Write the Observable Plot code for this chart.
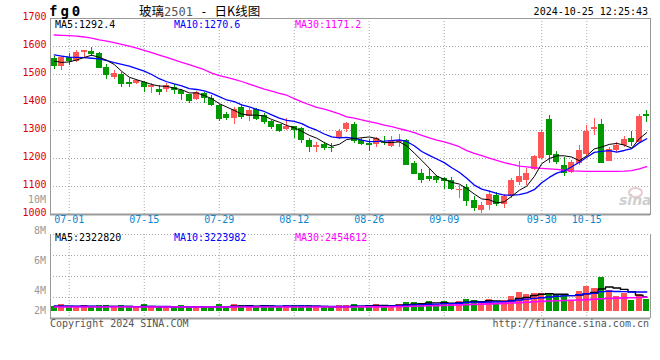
<!DOCTYPE html>
<html><head><meta charset="utf-8">
<script src="https://cdn.jsdelivr.net/npm/d3@7"></script>
<script src="https://cdn.jsdelivr.net/npm/@observablehq/plot@0.6"></script>
<style>
html,body{margin:0;padding:0;background:#fff;}
#root{position:relative;width:660px;height:360px;overflow:hidden;background:#fff;font-family:'DejaVu Sans Mono','Liberation Mono',monospace;}
.t{position:absolute;white-space:nowrap;line-height:1;}
.t span{display:inline-block;line-height:1;vertical-align:top;}
#main,#vol{position:absolute;left:0;}
#main{top:0;} #vol{top:228px;}
</style></head><body><div id="root"></div>
<script>
// ---------- DATA ----------
const dates = ["06-27","06-28",
"07-01","07-02","07-03","07-04","07-05","07-08","07-09","07-10","07-11","07-12",
"07-15","07-16","07-17","07-18","07-19","07-22","07-23","07-24","07-25","07-26",
"07-29","07-30","07-31",
"08-01","08-02","08-05","08-06","08-07","08-08","08-09","08-12","08-13","08-14","08-15","08-16",
"08-19","08-20","08-21","08-22","08-23","08-26","08-27","08-28","08-29","08-30",
"09-02","09-03","09-04","09-05","09-06","09-09","09-10","09-11","09-12","09-13",
"09-18","09-19","09-20","09-23","09-24","09-25","09-26","09-27","09-30",
"10-08","10-09","10-10","10-11","10-14","10-15","10-16","10-17","10-18",
"10-21","10-22","10-23","10-24","10-25"];

const opens  = [1556,1530,1559,1548,1580,1582,1576,1524,1491,1501, 1473,1469,1470,1452,1446,1445,1455,1443,1428,1411,
                1433,1413,1389,1357,1344,1383,1350,1374,1352,1333, 1320,1304,1313,1308,1265,1240,1250,1241,1272,1304,
                1321,1266,1255,1249,1258,1244,1258,1265,1182,1147, 1136,1136,1128,1121,1085,1097,1050,1014,1032,1068,
                1034,1063,1113,1121,1160,1200,1339,1214,1175,1151, 1183,1213,1304,1323,1190,1229,1246,1270,1258,1357];
const closes = [1530,1562,1548,1580,1585,1570,1523,1495,1505,1463, 1466,1477,1455,1461,1435,1461,1443,1428,1404,1435,
                1413,1389,1339,1343,1374,1347,1371,1340,1328,1311, 1298,1313,1300,1264,1240,1245,1236,1234,1298,1326,
                1262,1251,1248,1270,1252,1264,1263,1175,1143,1121, 1126,1120,1119,1088,1091,1047,1020,1032,1073,1036,
                1065,1120,1137,1148,1208,1294,1211,1187,1148,1186, 1229,1297,1311,1183,1232,1246,1267,1257,1350,1349];
const highs  = [1564,1566,1576,1586,1587,1598,1578,1536,1514,1506, 1485,1483,1476,1467,1461,1469,1464,1446,1430,1438,
                1436,1425,1392,1365,1381,1389,1377,1380,1360,1336, 1323,1342,1315,1312,1270,1258,1256,1255,1304,1330,
                1330,1270,1268,1276,1279,1279,1287,1269,1188,1161, 1161,1138,1133,1133,1103,1107,1064,1042,1085,1080,
                1070,1128,1189,1163,1212,1300,1355,1225,1203,1193, 1245,1318,1342,1338,1240,1258,1278,1298,1356,1371];
const lows   = [1519,1514,1533,1544,1562,1566,1523,1482,1482,1455, 1453,1464,1437,1433,1425,1437,1429,1407,1398,1408,
                1395,1385,1333,1336,1322,1340,1333,1336,1320,1305, 1293,1300,1272,1255,1220,1222,1230,1222,1268,1294,
                1255,1245,1226,1238,1246,1238,1240,1175,1142,1112, 1119,1112,1090,1086,1056,1030,1012,1002,1016,1030,
                1023,1056,1102,1104,1158,1195,1183,1180,1137,1146, 1175,1207,1283,1183,1188,1220,1240,1242,1256,1328];

const ma5  = [1548,1543,1545,1552,1561,1569,1561.2,1550.6,1535.6,1511.2, 1490.4,1481.2,1473.2,1464.4,1458.8,1457.8,1451,1445.6,1434.2,1434.2,
              1424.6,1413.8,1396,1383.8,1371.6,1358.4,1354.8,1355,1352,1339.4, 1329.6,1318,1310,1297.2,1283,1272.4,1257,1243.8,1250.6,1267.8,
              1271.2,1274.2,1277,1271.4,1256.6,1257,1259.4,1244.8,1219.4,1193.2, 1165.6,1137,1125.8,1114.8,1108.8,1093,1073,1055.6,1052.6,1041.6,
              1045.2,1065.2,1086.2,1101.2,1135.6,1181.4,1199.6,1209.6,1209.6,1205.2, 1192.2,1209.4,1234.2,1241.2,1250.4,1253.8,1247.8,1237,1270.4,1292.4];
const ma10 = [1570,1566,1562,1561,1560,1558,1556,1550,1542,1536.1, 1529.7,1521.2,1511.9,1500,1485,1474.1,1466.1,1459.4,1449.3,1446.5,
              1441.2,1432.4,1420.8,1409,1402.9,1391.5,1384.3,1375.5,1367.9,1355.5, 1344,1336.4,1332.5,1324.6,1311.2,1301,1287.5,1276.9,1273.9,1275.4,
              1271.8,1265.6,1260.4,1261,1262.2,1264.1,1266.8,1260.9,1245.4,1224.9, 1211.3,1198.2,1185.3,1167.1,1151,1129.3,1105,1090.7,1083.7,1075.2,
              1069.1,1069.1,1070.9,1076.9,1088.6,1113.3,1132.4,1147.9,1155.4,1170.4, 1186.8,1204.5,1221.9,1225.4,1227.8,1223,1228.6,1235.6,1255.8,1270.6];
const ma30 = [1641,1640,1639,1637,1634,1630,1624,1619,1614,1608, 1601,1594,1586,1578,1569,1561,1552,1543,1535,1526,
              1517,1505,1496,1490,1483,1475,1466,1457,1448,1441, 1433,1426,1414,1402,1392,1383,1376,1368,1359,1349,
              1344,1338,1332,1326,1319,1314,1307,1300,1292,1283, 1274,1266,1259,1251,1242,1228,1218,1210,1201,1193,
              1185,1179,1173,1170,1167,1165,1163,1161,1158,1156, 1155,1154,1154,1154,1154,1154,1155,1157,1163,1171.2];

// volume, millions of lots
const volumes = [0.86,1.2,0.74,0.74,0.98,0.74,0.98,0.98,0.74,0.98, 0.74,0.74,1.15,0.74,0.74,0.74,0.74,0.98,0.74,0.74,
                 0.74,0.74,1.15,0.74,1.2,0.98,0.98,0.74,0.98,0.98, 0.74,0.98,0.98,0.98,0.98,0.74,0.74,0.63,0.98,0.98,
                 1.2,0.86,0.98,1.2,0.98,0.98,1.2,1.6,1.55,1.32, 1.72,1.2,1.72,1.2,1.72,2.13,1.9,1.44,2.07,1.44,
                 1.9,2.59,3.28,2.93,3.05,3.05,3.1,2.76,2.87,1.9, 3.45,4.31,3.91,5.86,3.62,2.59,3.05,1.9,2.93,2.07];
const volMa5  = [0.9,0.92,0.9,0.88,0.90,0.88,0.84,0.88,0.88,0.88, 0.88,0.84,0.87,0.87,0.82,0.82,0.82,0.79,0.79,0.79,
                 0.79,0.79,0.82,0.82,0.91,0.96,1.01,0.93,0.98,0.93, 0.88,0.88,0.93,0.93,0.93,0.93,0.88,0.81,0.81,0.81,
                 0.91,0.93,1.0,1.04,1.04,1.0,1.07,1.19,1.26,1.33, 1.48,1.48,1.50,1.43,1.51,1.59,1.73,1.68,1.85,1.80,
                 1.75,1.89,2.26,2.43,2.75,2.98,3.08,2.98,2.97,2.74, 2.82,3.06,3.29,3.89,4.23,4.06,3.81,3.40,2.82,2.51];
const volMa10 = [0.92,0.92,0.91,0.9,0.9,0.9,0.89,0.89,0.89,0.89, 0.88,0.84,0.88,0.88,0.85,0.85,0.83,0.83,0.83,0.81,
                 0.81,0.81,0.81,0.81,0.85,0.88,0.90,0.88,0.90,0.92, 0.92,0.95,0.93,0.95,0.93,0.91,0.88,0.87,0.87,0.87,
                 0.92,0.91,0.91,0.93,0.93,0.95,1.0,1.10,1.15,1.19, 1.24,1.27,1.35,1.35,1.42,1.54,1.61,1.59,1.64,1.65,
                 1.67,1.81,1.97,2.14,2.27,2.37,2.49,2.62,2.70,2.74, 2.90,3.07,3.13,3.43,3.48,3.44,3.43,3.35,3.35,3.37];
const volMa30 = [0.78,0.78,0.78,0.78,0.78,0.78,0.78,0.78,0.78,0.78, 0.78,0.78,0.78,0.78,0.78,0.78,0.78,0.78,0.78,0.78,
                 0.78,0.78,0.78,0.78,0.78,0.78,0.78,0.78,0.78,0.78, 0.78,0.78,0.78,0.78,0.78,0.78,0.78,0.78,0.78,0.78,
                 0.78,0.79,0.79,0.80,0.80,0.82,0.84,0.86,0.90,0.94, 0.98,1.02,1.06,1.10,1.15,1.19,1.23,1.27,1.31,1.35,
                 1.40,1.46,1.53,1.60,1.67,1.74,1.80,1.86,1.90,1.94, 1.99,2.05,2.12,2.20,2.26,2.31,2.35,2.38,2.42,2.45];

const priceTicks = [1000,1100,1200,1300,1400,1500,1600,1700];
const priceGrid  = [1100,1200,1300,1400,1500,1600];
const dateTicks  = ["07-01","07-15","07-29","08-12","08-26","09-09","09-30","10-15"];
const volTickLabels = ["10M","8M","6M","4M","2M"];
const priceMaLabels = ["MA5:1292.4","MA10:1270.6","MA30:1171.2"];
const volMaLabels   = ["MA5:2322820","MA10:3223982","MA30:2454612"];
const titleCode = "fg0";
const titleName = ["玻璃","2501","\u00a0-\u00a0","日K线图"];
const timestamp = "2024-10-25 12:25:43";
const copyright = "Copyright 2024 SINA.COM";
const siteUrl = "http://finance.sina.com.cn";

// ---------- STYLE / LAYOUT ----------
const RED = "#ff5555", GREEN = "#009900";
const MA_COLORS = ["#000000","#0000ff","#ff00ff"];
const GRID = "#a8a8a8", FRAME = "#999999";
const BLUE_TXT = "#0a86d0";
const MONO = "'DejaVu Sans Mono','Liberation Mono',monospace";
const CJK = "'Noto Sans CJK SC',sans-serif";

const rows = dates.map((d, i) => ({
  date: d, open: opens[i], close: closes[i], high: highs[i], low: lows[i],
  ma5: ma5[i], ma10: ma10[i], ma30: ma30[i],
  vol: volumes[i], vma5: volMa5[i], vma10: volMa10[i], vma30: volMa30[i],
  color: closes[i] >= opens[i] ? RED : GREEN
}));

const root = document.getElementById("root");
function txt(s, o) {
  const el = document.createElement("div");
  el.className = "t";
  el.textContent = s;
  const fs = o.size || 10;
  el.style.fontSize = fs + "px";
  el.style.top = (o.cy - fs / 2) + "px";
  if (o.left != null) el.style.left = o.left + "px";
  if (o.right != null) el.style.right = (660 - o.right) + "px";
  if (o.color) el.style.color = o.color;
  if (o.weight) el.style.fontWeight = o.weight;
  if (o.family) el.style.fontFamily = o.family;
  if (o.style) el.style.fontStyle = o.style;
  if (o.ls) el.style.letterSpacing = o.ls;
  root.appendChild(el);
  return el;
}

// watermark (behind charts)
const eye = document.createElement("div");
Object.assign(eye.style, {position:"absolute", left:"628px", top:"187px", width:"11px", height:"7px",
  border:"2px solid #e6cccc", borderRadius:"50%"});
root.appendChild(eye);
txt("sina", {left: 619, cy: 200, size: 14, color: "#cfcfcf", weight: "bold", style: "italic", family: "'DejaVu Sans',sans-serif"});

const mainDiv = document.createElement("div"); mainDiv.id = "main"; root.appendChild(mainDiv);
const volDiv = document.createElement("div"); volDiv.id = "vol"; root.appendChild(volDiv);

// ---------- PRICE PANEL ----------
const main = Plot.plot({
  width: 660, height: 232,
  marginLeft: 50, marginRight: 10, marginTop: 18, marginBottom: 18,
  x: {type: "band", domain: dates, padding: 0, axis: null},
  y: {domain: [1000, 1700], axis: null},
  color: {type: "identity"},
  style: {background: "transparent", fontFamily: MONO, fontSize: "10px", overflow: "visible"},
  marks: [
    Plot.ruleY(priceGrid, {stroke: GRID, strokeDasharray: "1,2"}),
    Plot.ruleX(dateTicks, {x: d => d, stroke: GRID, strokeDasharray: "1,2"}),
    Plot.frame({stroke: FRAME}),
    Plot.ruleY([1000], {stroke: FRAME, strokeWidth: 2}),
    Plot.text(priceTicks, {y: d => d, text: d => String(d), frameAnchor: "left", textAnchor: "end",
      dx: -4, dy: -2, fill: "#e00000", fontSize: 10}),
    Plot.text(dateTicks, {x: d => d, text: d => d, frameAnchor: "bottom", dy: 8, fill: BLUE_TXT, fontSize: 10}),
    Plot.ruleX(rows, {x: "date", y1: "low", y2: "high", stroke: "color", shapeRendering: "crispEdges"}),
    Plot.barY(rows, {x: "date", y1: d => Math.min(d.open, d.close), y2: d => Math.max(d.open, d.close),
      fill: "color", insetLeft: 0.9, insetRight: 0.9, shapeRendering: "crispEdges"}),
    Plot.line(rows, {x: "date", y: "ma30", stroke: MA_COLORS[2], strokeWidth: 1.3}),
    Plot.line(rows, {x: "date", y: "ma10", stroke: MA_COLORS[1], strokeWidth: 1.3}),
    Plot.line(rows, {x: "date", y: "ma5", stroke: MA_COLORS[0], strokeWidth: 1})
  ]
});
mainDiv.appendChild(main);

// ---------- VOLUME PANEL ----------
const VOL_PX_PER_M = 5.8;                 // pixel height of 1M lots
const volPlotH = 132, volTop = 6, volBottom = 49;
const volMax = (volPlotH - volTop - volBottom) / VOL_PX_PER_M;
const volFrameLow = -7 / VOL_PX_PER_M;    // frame bottom sits 7px below the bar baseline
const volGrid = [0.25, 0.5, 0.75].map(f => volFrameLow + f * (volMax - volFrameLow));

const vol = Plot.plot({
  width: 660, height: volPlotH,
  marginLeft: 50, marginRight: 10, marginTop: volTop, marginBottom: volBottom,
  x: {type: "band", domain: dates, padding: 0, axis: null},
  y: {domain: [0, volMax], axis: null},
  color: {type: "identity"},
  style: {background: "transparent", fontFamily: MONO, fontSize: "10px", overflow: "visible"},
  marks: [
    Plot.ruleY(volGrid, {stroke: GRID, strokeDasharray: "1,2"}),
    Plot.ruleY([volMax], {stroke: GRID, strokeDasharray: "1,2"}),
    Plot.ruleX(dateTicks, {x: d => d, stroke: GRID, strokeDasharray: "1,2", insetBottom: -10}),
    Plot.barY(rows, {x: "date", y: "vol", fill: "color", insetLeft: 0.9, insetRight: 0.9, shapeRendering: "crispEdges"}),
    Plot.line(rows, {x: "date", y: "vma5", stroke: MA_COLORS[0], strokeWidth: 1.4, curve: "step"}),
    Plot.line(rows, {x: "date", y: "vma10", stroke: MA_COLORS[1], strokeWidth: 1.4, curve: "step"}),
    Plot.line(rows, {x: "date", y: "vma30", stroke: MA_COLORS[2], strokeWidth: 1.6, curve: "step"}),
    Plot.ruleX([dates[0]], {stroke: FRAME, dx: -3.75, insetBottom: -7}),
    Plot.ruleX([dates[dates.length - 1]], {stroke: FRAME, dx: 3.75, insetBottom: -7}),
    Plot.ruleY([0], {stroke: FRAME, strokeWidth: 2, dy: 7})
  ]
});
volDiv.appendChild(vol);

// ---------- TEXT ----------
txt(titleCode, {left: 49, cy: 10.5, size: 14, weight: "bold", ls: "3px", color: "#000"});
const tt = txt("", {left: 139, cy: 11, size: 12.5, family: CJK, color: "#000"});
titleName.forEach((s, k) => {
  const sp = document.createElement("span");
  sp.textContent = s;
  if (k === 1) { sp.style.color = "#555"; sp.style.fontFamily = MONO; sp.style.fontSize = "12px"; sp.style.marginTop = "1px"; }
  if (k === 2) { sp.style.fontFamily = MONO; sp.style.fontSize = "12px"; sp.style.marginTop = "1px"; }
  tt.appendChild(sp);
});
txt(timestamp, {right: 648, cy: 12, size: 10, color: "#000"});

const maX = [55, 174, 295];
priceMaLabels.forEach((s, k) => txt(s, {left: maX[k], cy: 24.5, size: 10, color: MA_COLORS[k]}));
volMaLabels.forEach((s, k) => txt(s, {left: maX[k], cy: 238, size: 10, color: MA_COLORS[k]}));

const volLabelCy = [200, 230.5, 261, 290.5, 310.5];
volTickLabels.forEach((s, k) => txt(s, {right: 46, cy: volLabelCy[k], size: 10, color: "#999"}));

txt(copyright, {left: 50, cy: 324, size: 10, color: "#555"});
txt(siteUrl, {right: 649, cy: 324, size: 10, color: "#555"});
</script></body></html>
